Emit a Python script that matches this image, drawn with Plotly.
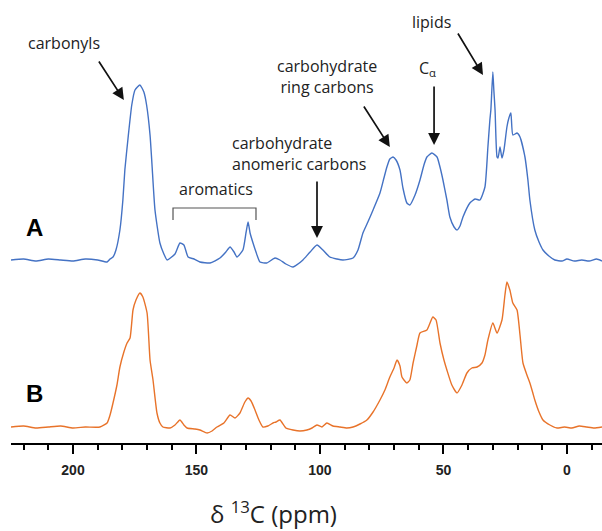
import plotly.graph_objects as go

# ---- data ----
ppm_A = [225.1, 220, 215, 210, 205, 200, 195, 190, 186.2, 185.0, 183.8, 182.6, 181.0, 179.8, 179.0, 177.7,
         176.2, 174.9, 172.9, 171.3, 170.2, 168.8, 168.0, 166.8, 164.8, 163.2, 161.9, 158.7, 156.7, 155.1,
         153.4, 151.0,
         148.6, 144.5, 140.5, 138.1, 136.4, 134.8, 133.6, 131.2, 129.9, 129.1, 128.3, 127.1, 125.9, 124.3,
         121.5, 118.2, 116.2, 113.8, 110.9, 108.9, 106.9, 104.0, 101.2, 98.8, 96.0, 93.1, 90.7, 86.6, 84.6,
         82.6, 80.6, 78.5, 75.7, 74.1, 72.9, 71.7, 70.4, 69.2, 67.6, 66.4, 64.8, 63.6, 61.5, 59.5, 57.9,
         56.7, 54.7, 52.6, 51.4, 50.2, 48.6, 47.4, 45.7, 44.5, 43.3, 42.1, 39.3, 37.2, 35.2, 33.2, 32.0,
         31.2, 30.8, 30.0, 29.6, 29.1, 28.3, 27.9, 27.1, 26.3, 25.5, 24.3, 23.5, 22.7, 21.9, 20.2, 19.0,
         17.0, 15.8, 15.0, 13.0, 11.3, 9.7, 7.3, 4.9, 2, 0, -3, -6, -9, -12, -14.2]
int_A = [0, 1, -1, 1, 0, -1, 1, 0, -2, 1, 3, 10, 30, 60, 90, 122,
         155, 170, 175, 168, 155, 125, 95, 50, 17, 6, 0, 6, 17, 15,
         3, 1,
         -2, -3, 2, 8, 13, 8, 3, 10, 28, 38, 27, 17, 8, -2,
         -3, 2, 0, -4, -7, -4, 0, 8, 15, 10, 3, 1, 0, 2, 10,
         27, 38, 50, 67, 82, 93, 101, 103, 100, 90, 72, 57, 55, 65, 80, 95,
         103, 107, 103, 93, 80, 60, 43, 33, 30, 34, 43, 57, 61, 60, 73, 113,
         140, 150, 188, 170, 150, 103, 102, 113, 102, 110, 133, 142, 147, 125, 127, 123,
         103, 80, 60, 30, 18, 10, 4, 0, -1, 1, -1, 0, -1, 1, -1]

ppm_B = [225.1, 220, 215, 210, 205, 200, 195, 189.1, 186.2, 185.0, 183.8, 182.2, 181.0, 179.4, 178.1, 176.9,
         175.7, 174.5, 172.9, 171.7, 170.0, 168.8, 167.6, 166.0, 164.8, 163.6, 160.7, 158.7, 156.7, 155.1,
         153.8, 150.6, 148.6, 145.7, 143.7, 141.7, 138.9, 136.4, 134.4, 132.4, 130.4, 129.1, 127.9, 126.3,
         124.7, 123.1, 121.1, 119.0, 117.8, 116.2, 113.8, 110.9, 108.1, 105.3, 103.2, 101.2, 99.2, 97.2,
         94.7, 91.9, 89.1, 86.6, 83.8, 81.0, 78.5, 75.7, 73.7, 71.7, 70.0, 68.8, 67.6, 66.8, 64.8, 63.6,
         62.3, 60.7, 59.5, 56.7, 54.3, 53.0, 51.4, 49.8, 48.6, 46.6, 44.5, 42.5, 40.5, 38.5, 36.4, 34.4,
         33.2, 32.0, 30.0, 28.3, 26.3, 25.1, 24.3, 23.1, 21.9, 20.2, 19.0, 17.8, 16.2, 15.0, 13.8, 13.0,
         11.3, 9.7, 6.9, 4.0, 1, -2, -5, -8, -11, -14.2]
int_B = [0, 1, -1, 0, 1, -1, 0, 0, 4, 12, 24, 42, 60, 75, 84, 89,
         117, 127, 134, 130, 114, 67, 47, 14, 4, 0, -1, 2, 7, 2,
         -1, -2, -3, -6, -4, 0, 4, 12, 9, 14, 25, 29, 26, 17,
         7, 0, 1, 4, 5, 7, -1, -3, -4, -3, -1, 2, 0, 4,
         1, 0, -1, 0, 3, 7, 15, 27, 37, 50, 59, 67, 61, 50, 44, 47,
         64, 82, 94, 97, 110, 107, 84, 67, 57, 42, 34, 42, 54, 59, 60, 64,
         72, 87, 104, 94, 107, 132, 145, 137, 124, 117, 92, 64, 52, 44, 34, 27,
         15, 7, 2, -1, 0, -1, 1, 0, -1, 0]

tick_vals = [200, 150, 100, 50, 0]
tick_text = ["200", "150", "100", "50", "0"]

# ---- layout helpers ----
OFF_A = 183
OFF_B = 16
FONT = "Open Sans"

fig = go.Figure()
fig.add_trace(go.Scatter(x=ppm_A, y=[v + OFF_A for v in int_A], mode="lines",
                         line=dict(color="#4472C4", width=1.4, shape="spline", smoothing=0.5),
                         showlegend=False))
fig.add_trace(go.Scatter(x=ppm_B, y=[v + OFF_B for v in int_B], mode="lines",
                         line=dict(color="#E8732A", width=1.4, shape="spline", smoothing=0.5),
                         showlegend=False))

fig.update_layout(
    width=602, height=531,
    margin=dict(l=11, r=0, t=0, b=88),
    plot_bgcolor="white", paper_bgcolor="white",
    showlegend=False,
    xaxis=dict(range=[225.1, -14.2], showgrid=False, zeroline=False,
               showline=True, linecolor="black", linewidth=1.5,
               ticks="outside", ticklen=9, tickwidth=1.5, tickcolor="black",
               tickvals=tick_vals, ticktext=tick_text, ticklabelstandoff=4,
               tickfont=dict(family="Liberation Sans", size=14, color="#222", weight="bold"),
               minor=dict(dtick=10, tick0=0, ticks="outside", ticklen=5, tickwidth=1.5, tickcolor="black")),
    yaxis=dict(range=[0, 443], visible=False, showgrid=False, zeroline=False),
)

anns = []
def txt(x, y, s, size=16, **kw):
    anns.append(dict(x=x, y=y, xref="x", yref="y", text=s, showarrow=False,
                     font=dict(family=FONT, size=size, color="#222"), **kw))

def arrow(x0, y0, x1, y1):
    anns.append(dict(x=x1, y=y1, ax=x0, ay=y0, xref="x", yref="y", axref="x", ayref="y",
                     text="", showarrow=True, arrowhead=2, arrowsize=1.4, arrowwidth=1.7,
                     arrowcolor="#111"))

txt(203.6, 400, "carbonyls")
arrow(189.9, 383, 179.4, 343)
txt(142.1, 254, "aromatics")
txt(136.4, 290, "carbohydrate<br>anomeric carbons", xanchor="left", align="left")
arrow(101.2, 263, 101.2, 205)
txt(97.0, 367, "carbohydrate<br>ring carbons")
arrow(82.6, 338, 71.7, 296)
txt(56.3, 375, "C<sub>α</sub>")
arrow(53.8, 358, 53.8, 298)
txt(54.7, 421, "lipids")
arrow(44.5, 411, 34.0, 368)
anns.append(dict(x=215.4, y=216, xref="x", yref="y", text="A", showarrow=False,
                 font=dict(family="Liberation Sans", size=24, color="black", weight="bold")))
anns.append(dict(x=215.4, y=50, xref="x", yref="y", text="B", showarrow=False,
                 font=dict(family="Liberation Sans", size=24, color="black", weight="bold")))
anns.append(dict(x=118.8, y=-0.158, xref="x", yref="paper", text="δ <sup>13</sup>C (ppm)",
                 showarrow=False, yanchor="middle",
                 font=dict(family=FONT, size=24, color="#222")))
fig.update_layout(annotations=anns)

fig.add_shape(type="path", xref="x", yref="y",
              path="M 159.5 223 L 159.5 235 L 125.9 235 L 125.9 223",
              line=dict(color="#555", width=1.2))

fig.write_html("out.html")
